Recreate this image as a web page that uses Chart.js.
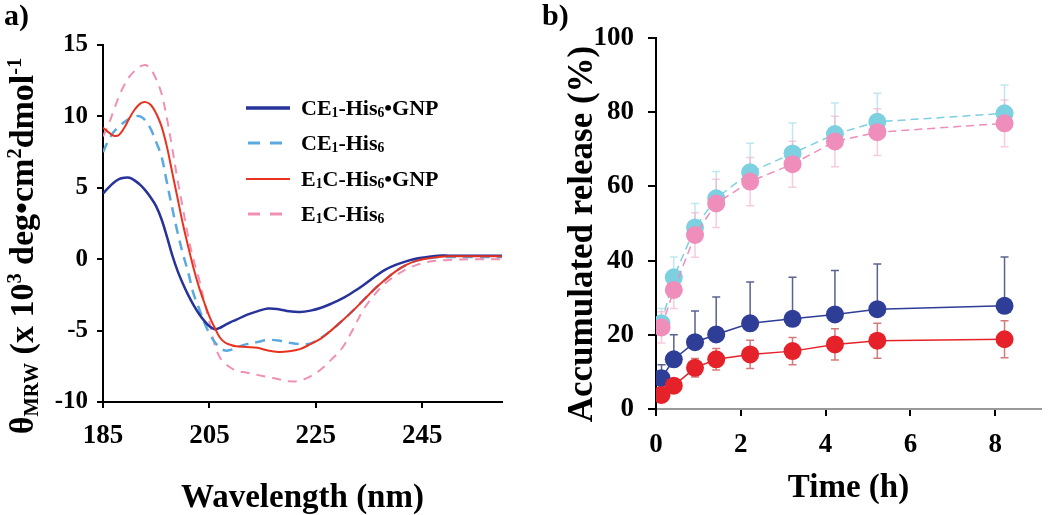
<!DOCTYPE html>
<html>
<head>
<meta charset="utf-8">
<script src="https://cdn.jsdelivr.net/npm/chart.js@4"></script>
<style>
  html, body { margin: 0; padding: 0; background: #fff; }
  #wrap { position: relative; width: 1050px; height: 515px; overflow: hidden; font-family: 'Liberation Serif', 'DejaVu Serif', serif; }
  canvas { position: absolute; top: 0; }
  #cd { left: 0; }
  #rel { left: 525px; }
  .panel { position: absolute; font-weight: bold; font-size: 30px; line-height: 1; }
  .ytitle { position: absolute; white-space: nowrap; font-weight: bold; font-size: 34px; line-height: 1;
            transform: translate(-50%, -50%) rotate(-90deg); }
  .ytitle sub { font-size: 60%; vertical-align: -0.25em; }
  .ytitle sup { font-size: 60%; vertical-align: 0.6em; }
  #legend { position: absolute; left: 246px; top: 90px; font-weight: bold; font-size: 22px; }
  #legend .row { height: 35.5px; display: flex; align-items: center; }
  #legend svg { width: 44px; height: 10px; margin-right: 11px; }
  #legend sub { font-size: 62%; position: relative; top: 0.35em; vertical-align: baseline; }
</style>
</head>
<body>
<div id="wrap">
  <canvas id="cd" width="520" height="515"></canvas>
  <canvas id="rel" width="525" height="515"></canvas>
  <div class="panel" style="left:4px; top:0px;">a)</div>
  <div class="panel" style="left:542px; top:0px;">b)</div>
  <div class="ytitle" style="left:23px; top:246px;">θ<sub>MRW</sub> (x 10<sup>3</sup> deg•cm<sup>2</sup>dmol<sup>-1</sup></div>
  <div class="ytitle" style="left:580px; top:234px; font-size:35px;">Accumulated release (%)</div>
  <div id="legend">
    <div class="row"><svg><line x1="0" y1="5" x2="44" y2="5" stroke="#27339a" stroke-width="3.5"/></svg>CE<sub>1</sub>-His<sub>6</sub>•GNP</div>
    <div class="row"><svg><line x1="2" y1="5" x2="44" y2="5" stroke="#5aaae0" stroke-width="3" stroke-dasharray="12 10"/></svg>CE<sub>1</sub>-His<sub>6</sub></div>
    <div class="row"><svg><line x1="0" y1="5" x2="44" y2="5" stroke="#e8321e" stroke-width="2"/></svg>E<sub>1</sub>C-His<sub>6</sub>•GNP</div>
    <div class="row"><svg><line x1="2" y1="5" x2="44" y2="5" stroke="#f090b4" stroke-width="3" stroke-dasharray="12 10"/></svg>E<sub>1</sub>C-His<sub>6</sub></div>
  </div>
</div>
<script>
// ---- panel a: CD spectra ----
const wavelengths = [185,186,187,188,189,190,191,192,193,194,195,196,197,198,199,200,201,202,203,204,205,206,207,208,209,210,
  212,214,216,218,220,222,224,226,228,230,232,234,236,238,240,242,244,246,248,250,255,260];
const ce1Gnp = [4.6,5.0,5.35,5.6,5.7,5.7,5.5,5.2,4.8,4.3,3.7,2.8,1.6,0.3,-0.8,-1.7,-2.5,-3.2,-3.8,-4.3,-4.7,-4.9,-4.8,-4.6,-4.4,-4.25,
  -3.9,-3.65,-3.45,-3.5,-3.65,-3.7,-3.6,-3.4,-3.1,-2.75,-2.3,-1.8,-1.25,-0.75,-0.4,-0.15,0.05,0.15,0.25,0.25,0.25,0.25];
const ce1 = [7.5,8.3,8.9,9.3,9.6,9.85,10.0,10.0,9.7,9.1,8.2,7.2,5.4,3.6,1.9,0.4,-0.9,-2.4,-3.4,-4.4,-5.2,-5.8,-6.2,-6.4,-6.35,-6.2,
  -5.95,-5.8,-5.65,-5.7,-5.85,-5.95,-5.9,-5.5,-4.95,-4.3,-3.6,-2.85,-2.1,-1.45,-0.85,-0.4,-0.1,0.05,0.15,0.15,0.15,0.15];
const e1cGnp = [9.2,8.9,8.65,8.7,9.2,9.9,10.5,10.9,11.0,10.8,10.2,9.3,7.9,6.1,4.3,2.5,0.9,-0.6,-1.9,-3.0,-4.0,-4.8,-5.5,-5.85,-6.0,-6.1,
  -6.15,-6.2,-6.4,-6.5,-6.45,-6.3,-5.95,-5.55,-4.95,-4.3,-3.6,-2.85,-2.1,-1.45,-0.85,-0.4,-0.1,0.05,0.15,0.2,0.2,0.2];
const e1c = [8.6,9.4,10.4,11.4,12.2,12.8,13.2,13.5,13.6,13.3,12.6,11.6,9.9,7.8,5.6,3.6,1.6,0.0,-1.3,-2.9,-4.4,-6.0,-6.9,-7.3,-7.6,-7.8,
  -7.95,-8.1,-8.25,-8.4,-8.55,-8.5,-8.2,-7.7,-7.0,-6.2,-4.9,-3.5,-2.5,-1.7,-1.15,-0.7,-0.4,-0.2,-0.1,-0.05,0.0,0.0];
const cdXTicks = [185, 205, 225, 245];
const cdYTicks = [-10, -5, 0, 5, 10, 15];

// ---- panel b: release ----
const times = [0.13, 0.42, 0.92, 1.42, 2.22, 3.22, 4.22, 5.22, 8.22];
const relCe1Gnp = [8.3, 13.4, 18.0, 20.1, 23.1, 24.3, 25.5, 26.9, 27.8];
const errCe1Gnp = [3.6, 6.6, 8.4, 10.1, 11.1, 11.2, 11.8, 12.2, 13.2];
const relE1cGnp = [3.8, 6.3, 11.1, 13.4, 14.7, 15.6, 17.4, 18.4, 18.8];
const errE1cGnp = [1.5, 1.8, 2.5, 2.9, 3.8, 3.7, 4.2, 4.7, 5.0];
const relCe1 = [23.1, 35.5, 48.9, 56.8, 63.8, 68.9, 74.1, 77.4, 79.7];
const errCe1 = [4.0, 5.5, 6.5, 7.2, 7.8, 8.2, 8.4, 7.7, 7.6];
const relE1c = [22.0, 32.1, 46.9, 55.4, 61.3, 66.0, 72.1, 74.6, 77.0];
const errE1c = [4.2, 5.0, 6.0, 6.5, 6.5, 6.2, 6.8, 6.3, 6.3];
const relXTicks = [0, 2, 4, 6, 8];
const relYTicks = [0, 20, 40, 60, 80, 100];

Chart.defaults.font.family = "'Liberation Serif', 'DejaVu Serif', serif";
Chart.defaults.color = '#000';

const pts = (xs, ys) => xs.map((x, i) => ({x: x, y: ys[i]}));
const setTicks = arr => scale => { scale.ticks = arr.map(v => ({value: v})); };

function cdSet(label, data, color, width, dash, order) {
    return {
        label: label,
        data: pts(wavelengths, data),
        borderColor: color,
        borderWidth: width,
        borderDash: dash,
        pointRadius: 0,
        tension: 0.35,
        fill: false,
        order: order
    };
}

new Chart(document.getElementById('cd'), {
    type: 'line',
    data: {
        datasets: [
            cdSet('CE1-His6•GNP', ce1Gnp, '#27339a', 2.5, [], 1),
            cdSet('CE1-His6', ce1, '#5aaae0', 2.5, [10, 7], 2),
            cdSet('E1C-His6•GNP', e1cGnp, '#e8321e', 2, [], 0),
            cdSet('E1C-His6', e1c, '#f090b4', 2, [9, 7], 3)
        ]
    },
    options: {
        responsive: false,
        animation: false,
        layout: { padding: { top: 45, right: 18, left: 0, bottom: 0 } },
        plugins: { legend: { display: false }, tooltip: { enabled: false } },
        scales: {
            x: {
                type: 'linear', min: 185, max: 260,
                afterBuildTicks: setTicks(cdXTicks),
                afterFit: s => { s.height = 113; },
                grid: { drawOnChartArea: false, color: '#000', lineWidth: 2, tickLength: 6 },
                border: { color: '#000', width: 2 },
                ticks: { font: { size: 27, weight: 'bold' }, padding: 12, maxRotation: 0 },
                title: { display: true, text: 'Wavelength (nm)', font: { size: 33, weight: 'bold', lineHeight: 1 }, padding: { top: 0, bottom: 0 } }
            },
            y: {
                min: -10, max: 15,
                afterBuildTicks: setTicks(cdYTicks),
                afterFit: s => { s.width = 103; },
                grid: { drawOnChartArea: false, color: '#000', lineWidth: 2, tickLength: 6 },
                border: { color: '#000', width: 2 },
                ticks: { font: { size: 25, weight: 'bold' }, padding: 9 }
            }
        }
    }
});

// error bars drawn through the y scale, under the markers
const errorBars = {
    id: 'errorBars',
    beforeDatasetsDraw(chart) {
        const ctx = chart.ctx;
        const y = chart.scales.y;
        chart.data.datasets.forEach((ds, i) => {
            const meta = chart.getDatasetMeta(i);
            ctx.save();
            ctx.strokeStyle = ds.errColor;
            ctx.lineWidth = 1.5;
            meta.data.forEach((p, j) => {
                const v = ds.data[j].y, e = ds.errors[j];
                const top = y.getPixelForValue(v + e);
                const bot = y.getPixelForValue(ds.errBoth ? v - e : v);
                ctx.beginPath();
                ctx.moveTo(p.x, top); ctx.lineTo(p.x, bot);
                ctx.moveTo(p.x - 4, top); ctx.lineTo(p.x + 4, top);
                if (ds.errBoth) { ctx.moveTo(p.x - 4, bot); ctx.lineTo(p.x + 4, bot); }
                ctx.stroke();
            });
            ctx.restore();
        });
    }
};

function relSet(label, data, errs, color, errColor, both, dash, order) {
    return {
        label: label,
        data: pts(times, data),
        errors: errs,
        errColor: errColor,
        errBoth: both,
        borderColor: color,
        backgroundColor: color,
        borderWidth: 1.5,
        borderDash: dash,
        pointRadius: 9,
        pointBorderWidth: 0,
        tension: 0,
        fill: false,
        order: order
    };
}

new Chart(document.getElementById('rel'), {
    type: 'line',
    data: {
        datasets: [
            relSet('CE1-His6•GNP', relCe1Gnp, errCe1Gnp, '#2e3d96', 'rgba(60,70,125,0.85)', false, [], 1),
            relSet('E1C-His6•GNP', relE1cGnp, errE1cGnp, '#e5222a', 'rgba(200,90,90,0.8)', true, [], 0),
            relSet('CE1-His6', relCe1, errCe1, '#7dd0e0', 'rgba(150,215,230,0.6)', false, [8, 5], 3),
            relSet('E1C-His6', relE1c, errE1c, '#ef8dbb', 'rgba(240,170,200,0.6)', true, [8, 5], 2)
        ]
    },
    options: {
        responsive: false,
        animation: false,
        layout: { padding: { top: 38, right: 0, left: 0, bottom: 0 } },
        plugins: { legend: { display: false }, tooltip: { enabled: false } },
        scales: {
            x: {
                type: 'linear', min: 0, max: 9.08,
                afterBuildTicks: setTicks(relXTicks),
                afterFit: s => { s.height = 106; },
                grid: { drawOnChartArea: false, color: '#000', lineWidth: 2, tickLength: 7 },
                border: { color: '#999', width: 2 },
                ticks: { font: { size: 27, weight: 'bold' }, padding: 13, maxRotation: 0 },
                title: { display: true, text: 'Time (h)', font: { size: 33, weight: 'bold', lineHeight: 1 }, padding: { top: 0, bottom: 10 } }
            },
            y: {
                min: 0, max: 100,
                afterBuildTicks: setTicks(relYTicks),
                afterFit: s => { s.width = 131; },
                grid: { drawOnChartArea: false, color: '#000', lineWidth: 2, tickLength: 8 },
                border: { color: '#000', width: 2 },
                ticks: { font: { size: 27, weight: 'bold' }, padding: 14 }
            }
        }
    },
    plugins: [errorBars]
});
</script>
</body>
</html>
